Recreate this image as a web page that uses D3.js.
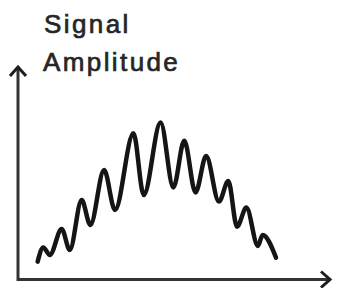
<!DOCTYPE html>
<html>
<head>
<meta charset="utf-8">
<script src="https://cdn.jsdelivr.net/npm/d3@7"></script>
<style>
  html, body { margin: 0; padding: 0; background: #fff; }
  svg { display: block; }
</style>
</head>
<body>
<svg id="chart" width="347" height="288"></svg>
<script>
// Data (arbitrary units: time 0-100, amplitude 0-100)
const timeValues = [6.3, 8.1, 10.2, 14.0, 16.6, 20.4, 23.2, 27.6, 31.1, 37.0, 40.3, 45.7,
                    49.8, 53.3, 56.9, 60.3, 64.4, 67.4, 70.2, 73.2, 76.9, 78.4, 82.7];
const amplitudeValues = [8.2, 14.9, 11.3, 23.6, 13.7, 37.3, 25.5, 51.4, 32.5, 68.7, 39.6, 73.8,
                         43.2, 65.2, 40.8, 58.0, 36.5, 46.2, 24.7, 33.7, 15.6, 20.8, 10.1];
const titleLines = ["Signal", "Amplitude"];

const svg = d3.select("#chart");

const x = d3.scaleLinear().domain([0, 100]).range([18, 330]);
const y = d3.scaleLinear().domain([0, 100]).range([279, 67]);

const axisColor = "#333333";

// arrow markers
const defs = svg.append("defs");
defs.append("marker")
  .attr("id", "arrow")
  .attr("viewBox", "-10 -10 20 20")
  .attr("refX", 0).attr("refY", 0)
  .attr("markerWidth", 20).attr("markerHeight", 20)
  .attr("markerUnits", "userSpaceOnUse")
  .attr("orient", "auto")
  .append("path")
  .attr("d", "M-9,-8 L0,0 L-9,8")
  .attr("fill", "none")
  .attr("stroke", "#1e1e1e")
  .attr("stroke-width", 3)
  .attr("stroke-linejoin", "miter");

// x axis
svg.append("line")
  .attr("x1", x(0)).attr("y1", y(0) + 0.5)
  .attr("x2", x(100)).attr("y2", y(0) + 0.5)
  .attr("stroke", axisColor).attr("stroke-width", 3)
  .attr("marker-end", "url(#arrow)");

// y axis
svg.append("line")
  .attr("x1", x(0)).attr("y1", y(0) + 2)
  .attr("x2", x(0)).attr("y2", y(100))
  .attr("stroke", axisColor).attr("stroke-width", 3)
  .attr("marker-end", "url(#arrow)");

// signal line
const pts = timeValues.map((t, i) => [t, amplitudeValues[i]]);
const line = d3.line()
  .x(d => x(d[0]))
  .y(d => y(d[1]))
  .curve(d3.curveMonotoneX);

svg.append("path")
  .datum(pts)
  .attr("d", line)
  .attr("fill", "none")
  .attr("stroke", "#151515")
  .attr("stroke-width", 4.5)
  .attr("stroke-linecap", "round")
  .attr("stroke-linejoin", "round");

// title
const title = svg.append("text")
  .attr("font-family", "Liberation Sans, Arial, sans-serif")
  .attr("font-size", 26)
  .attr("letter-spacing", 2.4)
  .attr("fill", "#262626")
  .attr("stroke", "#262626")
  .attr("stroke-width", 0.7);
title.append("tspan").attr("x", 44).attr("y", 33).text(titleLines[0]);
title.append("tspan").attr("x", 43).attr("y", 71).text(titleLines[1]);
</script>
</body>
</html>
